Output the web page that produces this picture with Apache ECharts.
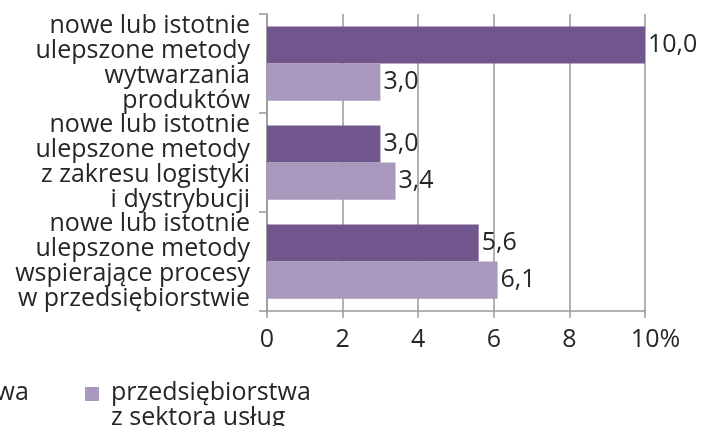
<!DOCTYPE html>
<html>
<head>
<meta charset="utf-8">
<script src="https://cdn.jsdelivr.net/npm/echarts@6/dist/echarts.min.js"></script>
<style>
	html, body { margin: 0; padding: 0; background: #fff; }
	#chart { width: 705px; height: 426px; }
</style>
</head>
<body>
<div id="chart"></div>
<script>
	// kategorie (od góry)
	var categories = [
		'nowe lub istotnie\nulepszone metody\nwytwarzania\nproduktów',
		'nowe lub istotnie\nulepszone metody\nz zakresu logistyki\ni dystrybucji',
		'nowe lub istotnie\nulepszone metody\nwspierające procesy\nw przedsiębiorstwie'
	]
	var seriesNames = ['przedsiębiorstwa\nprzemysłowe', 'przedsiębiorstwa\nz sektora usług']
	var przemysl = [10.0, 3.0, 5.6]
	var uslugi = [3.0, 3.4, 6.1]
	var xTicks = [0, 2, 4, 6, 8, 10]

	var colors = ['#70568C', '#A898BD']
	var textColor = '#262626'
	var font = '"Open Sans", sans-serif'
	var fs = 25

	var chart = echarts.init(document.getElementById('chart'), null, {renderer: 'canvas'})

	function barSeries(name, data, color) {
		return {
			name: name,
			type: 'bar',
			data: data,
			barGap: '0%',
			barCategoryGap: '25%',
			itemStyle: { color: color },
			label: {
				show: true,
				position: 'right',
				distance: 3,
				color: textColor,
				fontFamily: font,
				fontSize: fs,
				formatter: function (p) { return p.value.toFixed(1).replace('.', ',') }
			}
		}
	}

	chart.setOption({
		animation: false,
		backgroundColor: '#fff',
		grid: { left: 267, right: 60, top: 14, bottom: 115, containLabel: false },
		xAxis: {
			type: 'value',
			min: 0,
			max: 10,
			interval: 2,
			axisLine: { show: true, lineStyle: { color: '#999', width: 1.5 } },
			axisTick: { show: true, length: 7, lineStyle: { color: '#999', width: 1.5 } },
			splitLine: { show: true, lineStyle: { color: '#999', width: 1.5 } },
			axisLabel: {
				color: textColor,
				fontFamily: font,
				fontSize: fs,
				margin: 16,
				formatter: function (v) {
					if (xTicks.indexOf(v) < 0) return ''
					// "%" doklejony za liczbą, liczba zostaje pod kreską
					return v === 10 ? '{p|' + v + '%}' : String(v)
				},
				rich: {
					p: { color: textColor, fontFamily: font, fontSize: fs, padding: [0, 0, 0, 21] }
				}
			}
		},
		yAxis: {
			type: 'category',
			data: categories,
			inverse: true,
			axisLine: { show: true, lineStyle: { color: '#999', width: 1.5 } },
			axisTick: { show: true, length: 8, lineStyle: { color: '#999', width: 1.5 } },
			axisLabel: {
				interval: 0,
				color: textColor,
				fontFamily: font,
				fontSize: fs,
				lineHeight: 25,
				margin: 17,
				align: 'right'
			}
		},
		series: [
			barSeries(seriesNames[0], przemysl, colors[0]),
			barSeries(seriesNames[1], uslugi, colors[1])
		],
		// legenda (pierwsza pozycja ucięta przy lewej krawędzi)
		graphic: [
			{
				type: 'group', left: -197, top: 380,
				children: [
					{ type: 'rect', shape: { x: 0, y: 0, width: 14, height: 14 }, style: { fill: colors[0] } },
					{ type: 'text', x: 26, y: -7, style: { text: seriesNames[0], fill: textColor, font: fs + 'px ' + font, lineHeight: 25 } }
				]
			},
			{
				type: 'group', left: 85, top: 380,
				children: [
					{ type: 'rect', shape: { x: 0, y: 0, width: 14, height: 14 }, style: { fill: colors[1] } },
					{ type: 'text', x: 26, y: -7, style: { text: seriesNames[1], fill: textColor, font: fs + 'px ' + font, lineHeight: 25 } }
				]
			}
		]
	})
</script>
</body>
</html>
